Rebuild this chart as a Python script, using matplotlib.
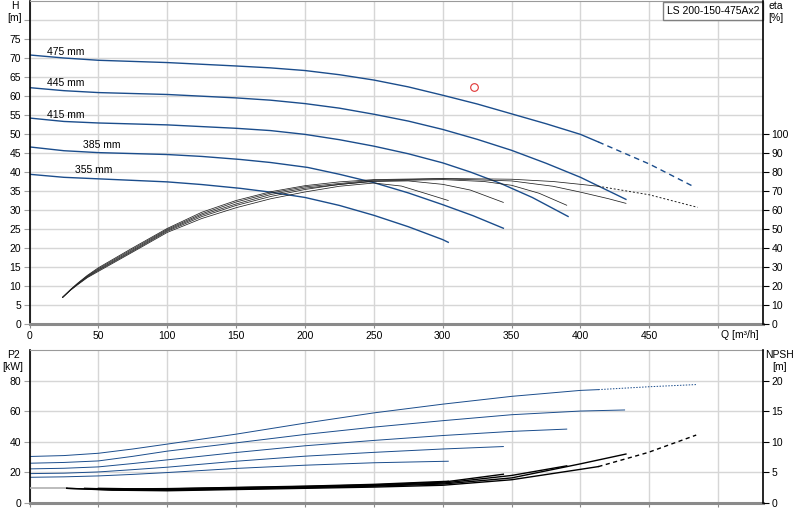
import matplotlib
matplotlib.use("Agg")
import matplotlib.pyplot as plt

plt.rcParams['font.family'] = ['Liberation Sans', 'DejaVu Sans']
plt.rcParams['font.size'] = 7.5

# --- Q-H curves (m) per impeller diameter
diam_labels = ['475 mm', '445 mm', '415 mm', '385 mm', '355 mm']
label_pos = [(12.7, 71.6), (12.7, 63.5), (12.7, 55.1), (38.8, 47.2), (33, 40.4)]

h475_q = [0, 25, 50, 100, 150, 175, 200, 225, 250, 275, 300, 325, 350, 375, 400, 413]
h475_h = [70.8, 70.0, 69.4, 68.8, 67.9, 67.4, 66.7, 65.6, 64.2, 62.4, 60.2, 57.9, 55.3, 52.7, 49.9, 47.9]
h475_ext_q = [413, 450, 483]
h475_ext_h = [47.9, 42.1, 36.0]
h445_q = [0, 25, 50, 100, 150, 175, 200, 225, 250, 275, 300, 325, 350, 375, 400, 433]
h445_h = [62.2, 61.4, 60.9, 60.4, 59.5, 58.9, 58.0, 56.8, 55.2, 53.4, 51.2, 48.6, 45.7, 42.3, 38.6, 32.8]
h415_q = [0, 25, 50, 100, 150, 175, 200, 225, 250, 275, 300, 320, 342, 365, 391]
h415_h = [54.2, 53.3, 52.9, 52.4, 51.5, 50.9, 49.9, 48.5, 46.8, 44.8, 42.4, 40.0, 37.0, 33.3, 28.3]
h385_q = [0, 25, 50, 100, 125, 153, 175, 202, 225, 250, 275, 300, 322, 344]
h385_h = [46.6, 45.6, 45.1, 44.6, 44.1, 43.3, 42.5, 41.2, 39.4, 37.2, 34.5, 31.4, 28.5, 25.2]
h355_q = [0, 25, 50, 100, 125, 153, 175, 200, 225, 250, 275, 300, 304]
h355_h = [39.4, 38.6, 38.2, 37.4, 36.7, 35.7, 34.7, 33.3, 31.2, 28.6, 25.6, 22.2, 21.5]

# --- efficiency curves (%)
e475_q = [24, 30, 35, 42, 50, 75, 100, 125, 150, 175, 200, 225, 250, 300, 350, 380, 400, 413]
e475_e = [14, 18.3, 21.5, 25.6, 29.6, 40.1, 50.3, 58.8, 65.0, 69.6, 72.8, 74.8, 76, 76.6, 76.2, 75, 73.5, 72.5]
e475_ext_q = [413, 450, 485]
e475_ext_e = [72.5, 68, 61.4]
e445_q = [24, 30, 35, 42, 50, 75, 100, 125, 150, 175, 200, 250, 300, 350, 380, 400, 420, 433]
e445_e = [14, 18.2, 21.3, 25.3, 29.1, 39.5, 49.8, 58.0, 64.2, 68.9, 72.2, 75.7, 76.4, 75.3, 72.5, 69.4, 66, 63.5]
e415_q = [24, 30, 35, 42, 50, 75, 100, 125, 150, 175, 200, 250, 300, 330, 350, 370, 390]
e415_e = [14, 18.1, 21.1, 25.0, 28.6, 38.9, 49.3, 57.3, 63.2, 68.1, 71.5, 75.3, 76, 75, 73, 68.8, 62.5]
e385_q = [24, 30, 35, 42, 50, 75, 100, 125, 150, 175, 200, 225, 250, 275, 300, 320, 344]
e385_e = [14, 18.0, 20.9, 24.7, 28.2, 38.4, 48.8, 56.5, 62.4, 67.1, 70.8, 73.5, 75, 75.3, 73.5, 70.5, 64]
e355_q = [24, 30, 35, 42, 50, 75, 100, 125, 150, 175, 200, 225, 250, 270, 288, 304]
e355_e = [14, 17.9, 20.7, 24.4, 27.7, 37.9, 48.2, 55.5, 61.2, 65.9, 69.5, 72.5, 74.2, 72.6, 68.6, 65]

# --- duty point
duty_q = [323]
duty_h = [62.3]

# --- P2 (kW)
p475_q = [0, 25, 50, 75, 100, 150, 200, 250, 300, 350, 400, 413]
p475_p = [30.4, 31.0, 32.5, 35.3, 38.5, 45, 52.2, 58.9, 64.6, 69.7, 73.6, 74.1]
p475_ext_q = [413, 450, 484]
p475_ext_p = [74.1, 76, 77.4]
p445_q = [0, 25, 50, 75, 100, 150, 200, 250, 300, 350, 400, 432]
p445_p = [26, 26.5, 27.5, 30.5, 33.9, 39.3, 44.8, 49.6, 53.8, 57.7, 60.1, 60.8]
p415_q = [0, 25, 50, 75, 100, 150, 200, 250, 300, 350, 390]
p415_p = [22.3, 22.7, 23.6, 25.8, 28.2, 33, 37.4, 40.9, 44.1, 46.8, 48.3]
p385_q = [0, 25, 50, 75, 100, 150, 200, 250, 300, 344]
p385_p = [19.2, 19.5, 20.3, 21.8, 23.4, 27.3, 30.6, 33.1, 35.3, 36.9]
p355_q = [0, 25, 50, 75, 100, 150, 200, 250, 304]
p355_p = [16.8, 17.1, 17.7, 18.7, 19.9, 22.6, 24.7, 26.3, 27.3]

# --- NPSH (m)
n_lead_q = [0, 27]
n_lead_n = [2.5, 2.5]
n475_q = [27, 60, 100, 150, 200, 250, 300, 350, 400, 413]
n475_n = [2.4, 2.1, 2.0, 2.2, 2.4, 2.6, 2.9, 3.8, 5.5, 5.95]
n475_ext_q = [413, 449, 484]
n475_ext_n = [5.95, 8.25, 11.1]
n445_q = [27, 60, 100, 150, 200, 250, 300, 350, 400, 433]
n445_n = [2.4, 2.15, 2.1, 2.3, 2.5, 2.75, 3.1, 4.1, 6.4, 8.0]
n415_q = [40, 70, 100, 150, 200, 250, 300, 350, 390]
n415_n = [2.4, 2.2, 2.2, 2.4, 2.6, 2.85, 3.25, 4.5, 6.07]
n385_q = [50, 80, 100, 150, 200, 250, 300, 344]
n385_n = [2.4, 2.3, 2.3, 2.5, 2.7, 2.95, 3.4, 4.7]
n355_q = [60, 100, 150, 200, 250, 304]
n355_n = [2.3, 2.35, 2.55, 2.75, 3.05, 3.55]

q_ticks = list(range(0, 501, 50))
h_ticks = list(range(0, 81, 5))
eta_ticks = list(range(0, 101, 10))
p_ticks = list(range(0, 81, 20))
npsh_ticks = list(range(0, 21, 5))

BLUE = '#1b4d8c'
GRID = '#d6d6d6'
W, H = 800, 520

fig = plt.figure(figsize=(8, 5.2), dpi=100)
ax1 = fig.add_axes([29.5 / W, 1 - 324 / H, 733.5 / W, 323 / H])
ax2 = fig.add_axes([29.5 / W, 1 - 503 / H, 733.5 / W, 153 / H])
ax1r = ax1.twinx()
ax2r = ax2.twinx()

QMAX = 532.5

def style(ax, axr, yticks, ylabels, rticks, ylim, rlim):
    ax.set_xlim(0, QMAX)
    ax.set_ylim(*ylim)
    axr.set_ylim(*rlim)
    ax.set_xticks(q_ticks)
    ax.set_yticks(yticks)
    ax.set_yticklabels(ylabels)
    axr.set_yticks(rticks)
    ax.grid(True, color=GRID, lw=1)
    ax.set_axisbelow(True)
    ax.spines['left'].set_color('black')
    ax.spines['left'].set_linewidth(1.2)
    ax.spines['bottom'].set_color('#8a8a8a')
    ax.spines['bottom'].set_linewidth(2.2)
    ax.spines['top'].set_color('#9a9a9a')
    ax.spines['right'].set_visible(False)
    for s in ['left', 'top', 'bottom']:
        axr.spines[s].set_visible(False)
    axr.spines['right'].set_color('black')
    axr.spines['right'].set_linewidth(1.2)
    ax.tick_params(axis='y', length=4, color='#a0a0a0', pad=2, labelsize=7.5)
    ax.tick_params(axis='x', length=3, color='#8a8a8a', pad=2, labelsize=7.5)
    axr.tick_params(axis='y', length=4, color='black', pad=2, labelsize=7.5)

# top chart: Q-H and efficiency
h_labels = [str(v) for v in h_ticks[:-1]] + ['']
style(ax1, ax1r, h_ticks, h_labels, eta_ticks, (0, 85), (0, 170))
ax1.set_xticklabels([str(v) for v in q_ticks[:-1]] + [''])
ax1.annotate('Q [m³/h]', xy=(500, 0), xycoords='data', xytext=(2, -4.5),
             textcoords='offset points', ha='left', va='top', fontsize=7.5)

for q, h in [(h475_q, h475_h), (h445_q, h445_h), (h415_q, h415_h),
             (h385_q, h385_h), (h355_q, h355_h)]:
    ax1.plot(q, h, color=BLUE, lw=1.0)
ax1.plot(h475_ext_q, h475_ext_h, color=BLUE, lw=1.0, ls=(0, (4, 3)))

for lab, (lq, lh) in zip(diam_labels, label_pos):
    ax1.text(lq, lh, lab, fontsize=7.5, va='center', ha='left')

for q, e in [(e475_q, e475_e), (e445_q, e445_e), (e415_q, e415_e),
             (e385_q, e385_e), (e355_q, e355_e)]:
    ax1r.plot(q, e, color='#222222', lw=0.55)
ax1r.plot(e475_ext_q, e475_ext_e, color='#222222', lw=0.7, ls=(0, (2, 2)))

ax1.plot(duty_q, duty_h, 'o', mfc='none', mec='#e03535', ms=5.5, mew=0.8)

ax1.text((713 - 29.5) / 733.5, 1 - 10 / 323, 'LS 200-150-475Ax2', transform=ax1.transAxes,
         ha='center', va='center', fontsize=7.5,
         bbox=dict(facecolor='white', edgecolor='#808080', boxstyle='square,pad=0.35', lw=1))

fig.text(15 / W, 1 - 6 / H, 'H', ha='center', va='center', fontsize=7.5)
fig.text(15 / W, 1 - 18 / H, '[m]', ha='center', va='center', fontsize=7.5)
fig.text(776 / W, 1 - 6 / H, 'eta', ha='center', va='center', fontsize=7.5)
fig.text(776 / W, 1 - 18 / H, '[%]', ha='center', va='center', fontsize=7.5)

# bottom chart: P2 and NPSH
style(ax2, ax2r, p_ticks, [str(v) for v in p_ticks], npsh_ticks, (0, 100), (0, 25))
ax2.set_xticklabels([])

for q, p in [(p475_q, p475_p), (p445_q, p445_p), (p415_q, p415_p),
             (p385_q, p385_p), (p355_q, p355_p)]:
    ax2.plot(q, p, color=BLUE, lw=0.7)
ax2.plot(p475_ext_q, p475_ext_p, color=BLUE, lw=0.7, ls=(0, (1.5, 1.5)))

ax2r.plot(n_lead_q, n_lead_n, color='#b0b0b0', lw=1.2)
for q, n in [(n475_q, n475_n), (n445_q, n445_n), (n415_q, n415_n),
             (n385_q, n385_n), (n355_q, n355_n)]:
    ax2r.plot(q, n, color='black', lw=1.0)
ax2r.plot(n475_ext_q, n475_ext_n, color='black', lw=1.0, ls=(0, (3, 2.5)))

fig.text(13 / W, 1 - 355 / H, 'P2', ha='center', va='center', fontsize=7.5)
fig.text(13 / W, 1 - 367 / H, '[kW]', ha='center', va='center', fontsize=7.5)
fig.text(780 / W, 1 - 355 / H, 'NPSH', ha='center', va='center', fontsize=7.5)
fig.text(780 / W, 1 - 367 / H, '[m]', ha='center', va='center', fontsize=7.5)

fig.savefig('out.png', dpi=100)
